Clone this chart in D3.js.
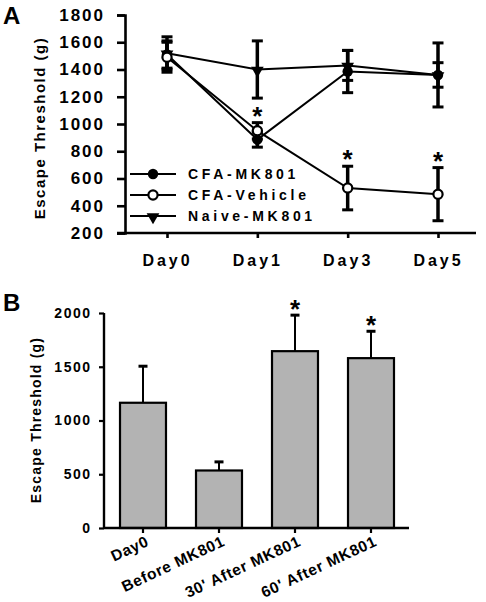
<!DOCTYPE html>
<html><head><meta charset="utf-8">
<script src="https://cdn.jsdelivr.net/npm/d3@7"></script>
<style>
body{margin:0;background:#fff;}
text{font-family:Arial,"Liberation Sans",sans-serif;font-weight:bold;fill:#000;}
</style></head>
<body><svg id="c" width="486" height="602"></svg>
<script>
// ---------- Panel A data ----------
const days = ["Day0","Day1","Day3","Day5"];
const seriesNames = ["CFA-MK801","CFA-Vehicle","Naive-MK801"];
const cfaMK801 = [1510, 885, 1385, 1360];
const cfaMK801Err = [100, 55, 155, 90];
const cfaVehicle = [1490, 950, 530, 485];
const cfaVehicleErr = [110, 60, 160, 195];
const naiveMK801 = [1520, 1400, 1430, 1360];
const naiveMK801Err = [120, 210, 110, 235];
const sigA = [false, true, true, true];
const ticksA = [200,400,600,800,1000,1200,1400,1600,1800];

// ---------- Panel B data ----------
const groupsB = ["Day0","Before MK801","30' After MK801","60' After MK801"];
const valuesB = [1165, 535, 1645, 1580];
const errB = [340, 80, 335, 250];
const sigB = [false, false, true, true];
const ticksB = [0,500,1000,1500,2000];

const svg = d3.select("#c");

// ===== Panel A =====
const xA = d3.scalePoint().domain(days).range([167, 438]);
const yA = d3.scaleLinear().domain([200,1800]).range([233,15]);

svg.append("text").attr("x",3).attr("y",24).style("font-size","24px").text("A");

const gyA = svg.append("g").attr("transform","translate(125,0)")
  .call(d3.axisLeft(yA).tickValues(ticksA).tickSize(8).tickPadding(14).tickFormat(d3.format("d")));
const gxA = svg.append("g").attr("transform","translate(0,233)")
  .call(d3.axisBottom(xA).tickSize(5).tickPadding(14));
gxA.select(".domain").attr("d","M117,0H476");
[gyA,gxA].forEach(g=>{
  g.select(".domain").attr("stroke","#000").attr("stroke-width",2.6);
  g.selectAll(".tick line").attr("stroke","#000").attr("stroke-width",2.6);
});
gyA.selectAll(".tick text").style("font-size","17px").style("letter-spacing","2px").attr("dx","2px");
gxA.selectAll(".tick text").style("font-size","16px").style("letter-spacing","3px").attr("dy","0.9em");

svg.append("text").attr("transform","translate(45,128) rotate(-90)").attr("text-anchor","middle")
  .style("font-size","15px").style("letter-spacing","1.5px").text("Escape Threshold (g)");

const seriesA = [
  {name:seriesNames[2], vals:naiveMK801, err:naiveMK801Err, marker:"tri"},
  {name:seriesNames[0], vals:cfaMK801, err:cfaMK801Err, marker:"fill"},
  {name:seriesNames[1], vals:cfaVehicle, err:cfaVehicleErr, marker:"open"}
];
const lineA = d3.line().x((d,i)=>xA(days[i])).y(d=>yA(d));
function drawMarker(g, type, x, y){
  if(type==="fill") g.append("circle").attr("cx",x).attr("cy",y).attr("r",5.2).attr("fill","#000");
  else if(type==="open") g.append("circle").attr("cx",x).attr("cy",y).attr("r",4.6).attr("fill","#fff").attr("stroke","#000").attr("stroke-width",2.2);
  else g.append("path").attr("d",d3.symbol(d3.symbolTriangle,70)()).attr("transform",`translate(${x},${y+1}) rotate(180)`).attr("fill","#000");
}
seriesA.forEach(s=>{
  svg.append("path").datum(s.vals).attr("d",lineA).attr("fill","none").attr("stroke","#000").attr("stroke-width",2);
});
seriesA.forEach(s=>{
  const g = svg.append("g");
  s.vals.forEach((v,i)=>{
    const x = xA(days[i]);
    g.append("line").attr("x1",x).attr("x2",x).attr("y1",yA(v+s.err[i])).attr("y2",yA(v-s.err[i])).attr("stroke","#000").attr("stroke-width",3.5);
    [v+s.err[i], v-s.err[i]].forEach(e=>g.append("line").attr("x1",x-5.5).attr("x2",x+5.5).attr("y1",yA(e)).attr("y2",yA(e)).attr("stroke","#000").attr("stroke-width",3));
  });
});
seriesA.forEach(s=>{
  const g = svg.append("g");
  s.vals.forEach((v,i)=>drawMarker(g, s.marker, xA(days[i]), yA(v)));
});
// asterisks
sigA.forEach((sg,i)=>{
  if(!sg) return;
  const top = yA(cfaVehicle[i]+cfaVehicleErr[i]);
  svg.append("text").attr("x",xA(days[i])).attr("y",top+2).attr("text-anchor","middle").style("font-size","26px").text("*");
});
// legend
const legOrder = [{name:seriesNames[0],m:"fill"},{name:seriesNames[1],m:"open"},{name:seriesNames[2],m:"tri"}];
legOrder.forEach((l,i)=>{
  const y = 174 + i*21;
  svg.append("line").attr("x1",130).attr("x2",176).attr("y1",y).attr("y2",y).attr("stroke","#000").attr("stroke-width",2);
  drawMarker(svg, l.m, 153, y);
  svg.append("text").attr("x",188).attr("y",y+5).style("font-size","14px").style("letter-spacing","3.7px").text(l.name);
});

// ===== Panel B =====
const xB = d3.scaleBand().domain(groupsB).range([105,409]).paddingInner(0.395).paddingOuter(0.1975);
const yB = d3.scaleLinear().domain([0,2000]).range([528,313]);

svg.append("text").attr("x",3).attr("y",311).style("font-size","24px").text("B");

groupsB.forEach((gname,i)=>{
  const x = xB(gname)+xB.bandwidth()/2;
  svg.append("line").attr("x1",x).attr("x2",x).attr("y1",yB(valuesB[i])).attr("y2",yB(valuesB[i]+errB[i])).attr("stroke","#000").attr("stroke-width",2);
  svg.append("line").attr("x1",x-4.5).attr("x2",x+4.5).attr("y1",yB(valuesB[i]+errB[i])).attr("y2",yB(valuesB[i]+errB[i])).attr("stroke","#000").attr("stroke-width",3);
  if(sigB[i]) svg.append("text").attr("x",x).attr("y",yB(valuesB[i]+errB[i])+3).attr("text-anchor","middle").style("font-size","26px").text("*");
});
svg.append("g").selectAll("rect").data(groupsB).join("rect")
  .attr("x",d=>xB(d)).attr("width",xB.bandwidth())
  .attr("y",(d,i)=>yB(valuesB[i])).attr("height",(d,i)=>yB(0)-yB(valuesB[i]))
  .attr("fill","#b3b3b3").attr("stroke","#000").attr("stroke-width",2.2);

const gyB = svg.append("g").attr("transform","translate(104,0)")
  .call(d3.axisLeft(yB).tickValues(ticksB).tickSize(5).tickPadding(9).tickFormat(d3.format("d")));
const gxB = svg.append("g").attr("transform","translate(0,528)")
  .call(d3.axisBottom(xB).tickSize(5).tickPadding(6));
gyB.select(".domain").attr("d","M0,313V528");
gxB.select(".domain").attr("d","M104,0H409");
[gyB,gxB].forEach(g=>{
  g.select(".domain").attr("stroke","#000").attr("stroke-width",2.4);
  g.selectAll(".tick line").attr("stroke","#000").attr("stroke-width",2.2);
});
gyB.selectAll(".tick text").style("font-size","14px").style("letter-spacing","1.5px").attr("dx","1.5px");
gxB.selectAll(".tick text").style("font-size","15.5px").style("letter-spacing","0.7px")
  .attr("text-anchor","end").attr("x",0).attr("y",0).attr("dy",0).attr("dx",0)
  .attr("transform","translate(7,17) rotate(-25)");

svg.append("text").attr("transform","translate(41,420) rotate(-90)").attr("text-anchor","middle")
  .style("font-size","14px").style("letter-spacing","1.2px").text("Escape Threshold (g)");
</script></body></html>
